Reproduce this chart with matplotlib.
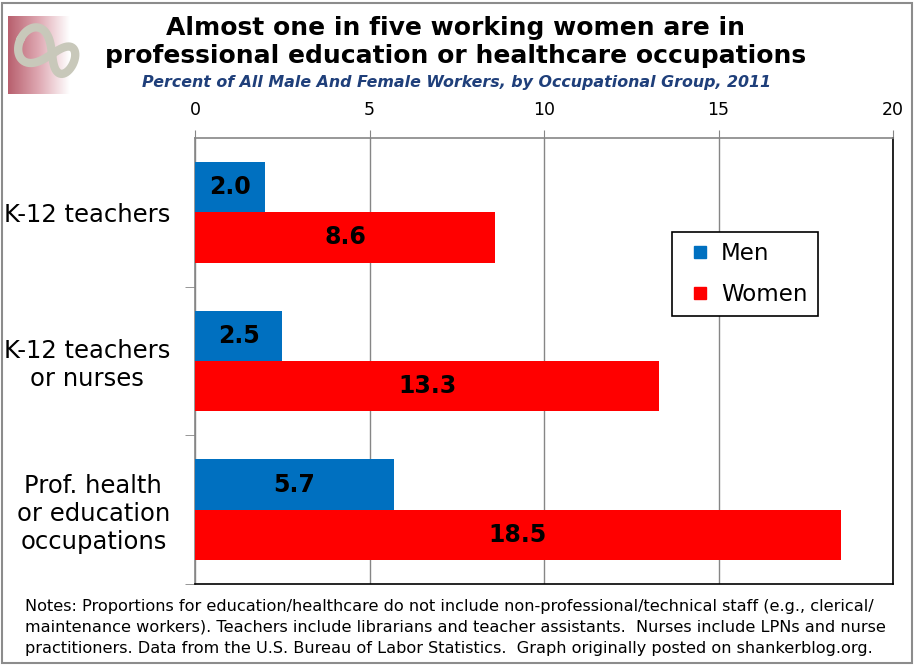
import numpy as np
import matplotlib
matplotlib.use('Agg')
import matplotlib.pyplot as plt
from matplotlib.patches import Rectangle
from matplotlib.lines import Line2D
from matplotlib.colors import LinearSegmentedColormap

categories = ['K-12 teachers', 'K-12 teachers\nor nurses', 'Prof. health\nor education\noccupations']
men = [2.0, 2.5, 5.7]
women = [8.6, 13.3, 18.5]
xticks = [0, 5, 10, 15, 20]

title = 'Almost one in five working women are in\nprofessional education or healthcare occupations'
subtitle = 'Percent of All Male And Female Workers, by Occupational Group, 2011'
notes = ['Notes: Proportions for education/healthcare do not include non-professional/technical staff (e.g., clerical/',
         'maintenance workers). Teachers include librarians and teacher assistants.  Nurses include LPNs and nurse',
         'practitioners. Data from the U.S. Bureau of Labor Statistics.  Graph originally posted on shankerblog.org.']

c_men = '#0070C0'
c_women = '#FF0000'
grey = '#868686'

W, H = 914, 665
fig = plt.figure(figsize=(W / 100, H / 100), dpi=100)

# outer frame
fig.patches.append(Rectangle((2 / W, 2 / H), 910 / W, 660 / H, transform=fig.transFigure,
                             fill=False, edgecolor='#8C8C8C', lw=1.5))

# logo: gradient block with a grey figure-eight
lax = fig.add_axes([8 / W, 1 - 94 / H, 84 / W, 78 / H])
grad = np.linspace(0, 1, 100).reshape(1, -1)
cm = LinearSegmentedColormap.from_list('logo', ['#B8606E', '#DFA9B3', '#FFFFFF'])
lax.imshow(grad, aspect='auto', cmap=cm, extent=[0, 62, 0, 78])
t = np.linspace(0, 2 * np.pi, 300)
a = 29
bx = a * np.cos(t) / (1 + np.sin(t) ** 2)
by = a * np.sin(t) * np.cos(t) / (1 + np.sin(t) ** 2)
sc = 1 + 0.2 * bx / a
bx, by = bx * sc, by * sc * 1.6
ang = np.deg2rad(-25)
lx = 44 - bx * np.cos(ang) + by * np.sin(ang)
ly = 40 - bx * np.sin(ang) - by * np.cos(ang)
lax.plot(lx, ly, color='#C8C8BA', lw=6, solid_capstyle='round', clip_on=False)
lax.set_xlim(0, 84)
lax.set_ylim(0, 78)
lax.axis('off')

# titles
fig.text(456 / W, 1 - 42 / H, title, ha='center', va='center', fontsize=18,
         fontweight='bold', color='black', linespacing=1.25)
fig.text(457 / W, 1 - 83 / H, subtitle, ha='center', va='center', fontsize=11.4,
         fontweight='bold', style='italic', color='#1F3F7A')

# main axes
ax = fig.add_axes([195 / W, 1 - 584 / H, 698 / W, 446 / H])
y = np.arange(len(categories))
bh = 0.338
ax.barh(y - bh / 2, men, height=bh, color=c_men, zorder=3)
ax.barh(y + bh / 2, women, height=bh, color=c_women, zorder=3)

for i in range(len(categories)):
    ax.text(men[i] / 2, y[i] - bh / 2, f'{men[i]:.1f}', ha='center', va='center',
            fontsize=17, fontweight='bold', zorder=4)
    ax.text(women[i] / 2, y[i] + bh / 2, f'{women[i]:.1f}', ha='center', va='center',
            fontsize=17, fontweight='bold', zorder=4)

ax.set_xlim(0, 20)
ax.set_ylim(2.5, -0.5)
ax.xaxis.tick_top()
ax.set_xticks(xticks)
ax.tick_params(axis='x', direction='out', length=6, color=grey, pad=8, labelsize=12.5)
ax.grid(axis='x', color=grey, lw=1, zorder=0)

ax.set_yticks(y)
ax.set_yticklabels(categories, fontsize=17.5, ha='right', multialignment='center')
ax.tick_params(axis='y', which='major', length=0, pad=18)
ax.set_yticks([0.5, 1.5, 2.5], minor=True)
ax.tick_params(axis='y', which='minor', direction='out', length=7, color=grey)

ax.spines['top'].set_color(grey)
ax.spines['left'].set_color(grey)
ax.spines['right'].set_color('black')
ax.spines['bottom'].set_color('black')
for s in ax.spines.values():
    s.set_linewidth(1.2)

handles = [Line2D([], [], ls='none', marker='s', ms=9, color=c_men, label='Men'),
           Line2D([], [], ls='none', marker='s', ms=9, color=c_women, label='Women')]
leg = ax.legend(handles=handles, loc='upper left', bbox_to_anchor=(0.683, 0.789), fontsize=16.5,
                frameon=True, fancybox=False, edgecolor='black', framealpha=1,
                handlelength=1.6, handletextpad=0.1,
                borderpad=0.45, labelspacing=0.75, borderaxespad=0)
leg.get_frame().set_linewidth(1.2)
leg.set_zorder(5)

# notes
for k, line in enumerate(notes):
    fig.text(25 / W, 1 - (607 + 20.5 * k) / H, line, ha='left', va='center',
             fontsize=11.6, color='black')

fig.savefig('out.png', dpi=100)
